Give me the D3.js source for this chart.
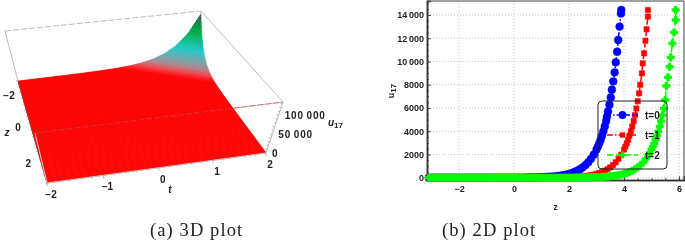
<!DOCTYPE html>
<html><head><meta charset="utf-8">
<script src="https://cdn.jsdelivr.net/npm/d3@7"></script>
<style>
html,body{margin:0;padding:0;background:#fff;overflow:hidden}
svg{display:block;filter:blur(0.35px)}
text{font-family:"Liberation Sans",Arial,sans-serif;font-weight:bold;fill:#222}
.cap{font-family:"Liberation Serif",serif;font-weight:normal;font-size:18.5px;letter-spacing:1.1px;fill:#222}
</style></head><body>
<svg id="c" width="685" height="241"></svg>
<script>
// ---------- 2D plot data ----------
const lowZ = [-3.1,-3,-2.9,-2.8,-2.7,-2.6,-2.5,-2.4,-2.3,-2.2,-2.1,-2,-1.9,-1.8,-1.7,-1.6,-1.5,-1.4,-1.3,-1.2,-1.1,-1,-0.9,-0.8,-0.7,-0.6,-0.5,-0.4,-0.3,-0.2,-0.1,0,0.1,0.2,0.3,0.4,0.5,0.6,0.7,0.8,0.9,1];
const blueZ = [...lowZ,1.1,1.2,1.3,1.4,1.5,1.6,1.7,1.8,1.9,2,2.1,2.2,2.3,2.4,2.5,2.6,2.7,2.8,2.9,3,3.05,3.1,3.15,3.2,3.25,3.3,3.35,3.38,3.42,3.47,3.52,3.56,3.61,3.66,3.7,3.75,3.79,3.84,3.89,3.9];
const blueU = [0,0,0,0,0,0,0,0,0,0,0,0,0,0,0,0,1,1,1,1,1,1,1,1,2,2,2,3,3,4,5,6,7,9,11,13,16,20,24,30,36,44,54,66,81,99,121,147,180,220,268,328,400,489,597,730,891,1088,1329,1623,1983,2421,2676,2957,3268,3612,3992,4411,4875,5250,5710,6280,6910,7570,8290,9065,9925,10840,11850,13000,14140,14430];
const redZ = [...lowZ,1.1,1.2,1.3,1.4,1.5,1.6,1.7,1.8,1.9,2,2.1,2.2,2.3,2.4,2.5,2.6,2.7,2.8,2.9,3,3.1,3.2,3.3,3.4,3.5,3.6,3.7,3.8,3.9,4,4.05,4.1,4.15,4.2,4.25,4.3,4.35,4.4,4.45,4.5,4.55,4.59,4.65,4.68,4.73,4.78,4.82,4.87,4.87];
const redU = [0,0,0,0,0,0,0,0,0,0,0,0,0,0,0,0,0,0,0,0,0,0,0,0,0,0,0,0,0,0,0,0,1,1,1,1,1,1,2,2,3,4,7,9,11,13,16,20,24,30,36,44,54,66,81,99,121,147,180,220,268,328,400,489,597,730,891,1088,1329,1623,1983,2421,2676,2957,3268,3612,3992,4411,4875,5388,5955,6581,7270,8000,8980,9840,10700,11790,12770,13860,14430];
const greenZ = [...lowZ,1.1,1.2,1.3,1.4,1.5,1.6,1.7,1.8,1.9,2,2.1,2.2,2.3,2.4,2.5,2.6,2.7,2.8,2.9,3,3.1,3.2,3.3,3.4,3.5,3.6,3.7,3.8,3.9,4,4.1,4.2,4.3,4.4,4.5,4.6,4.7,4.8,4.9,5,5.05,5.1,5.15,5.2,5.25,5.3,5.35,5.4,5.45,5.5,5.54,5.6,5.66,5.7,5.76,5.82,5.88,5.88];
const greenU = [0,0,0,0,0,0,0,0,0,0,0,0,0,0,0,0,0,0,0,0,0,0,0,0,0,0,0,0,0,0,0,0,0,0,0,0,0,0,0,0,0,1,1,1,1,1,1,2,2,3,4,5,7,9,11,13,16,20,24,30,36,44,54,66,81,99,121,147,180,220,268,328,400,489,597,730,891,1088,1329,1623,1983,2421,2676,2957,3268,3612,3992,4411,4875,5388,5955,6680,7890,8630,9550,10360,11560,12500,13570,14430];
const seriesLabels = ["t=0","t=1","t=2"];
const seriesColors = ["#0000ff","#ff0000","#00ff00"];
const xTicks = [-2,0,2,4,6];
const yTicks = [0,2000,4000,6000,8000,10000,12000,14000];
// ---------- 3D plot data ----------
const profileS = [-5,1,2,2.5,3,3.25,3.5,3.75,4,4.25,4.5,4.75,5];      // t - z
const profileU = [0,40,310,840,2290,3770,6220,10260,16900,27900,46000,75800,125000];
const tTicks = [-2,-1,0,1,2];
const zTicks = [-2,0,2];
const uTicks = [0,50000,100000];

const svg = d3.select("#c");
const fmt = v => { const s=String(Math.abs(v)); return (v<0?"\u2212":"")+(s.length>=5? s.slice(0,-3)+"\u2009"+s.slice(-3):s); };

// ---------- 3D ----------
function quadMap(q){ // unit square -> quad (projective)
  const [[x0,y0],[x1,y1],[x2,y2],[x3,y3]] = q;
  const dx1=x1-x2,dx2=x3-x2,sx=x0-x1+x2-x3,dy1=y1-y2,dy2=y3-y2,sy=y0-y1+y2-y3;
  const den=dx1*dy2-dx2*dy1, g=(sx*dy2-dx2*sy)/den, h=(dx1*sy-sx*dy1)/den;
  const a=x1-x0+g*x1,b=x3-x0+h*x3,d=y1-y0+g*y1,e=y3-y0+h*y3;
  return (u,v)=>{const w=g*u+h*v+1;return [(a*u+b*v+x0)/w,(d*u+e*v+y0)/w];};
}
const baseMap = quadMap([[18,81],[197,60],[266,153],[47,183]]);
const topMap  = quadMap([[5,31],[201,11],[283,102],[35,133]]);
const tN = d3.scaleLinear().domain([-2,2]).range([0,1]);
const zN = d3.scaleLinear().domain([-3,3]).range([0,1]);
const uN = d3.scaleLinear().domain([0,134000]).range([0,1]);
const proj = (t,z,u)=>{const b=baseMap(tN(t),zN(z)),p=topMap(tN(t),zN(z)),k=uN(u);return [b[0]+(p[0]-b[0])*k,b[1]+(p[1]-b[1])*k];};
const height = d3.scaleLinear().domain(profileS).range(profileU);
const color = d3.scaleLinear()
  .domain([0,3000,7000,12000,20000,42000,78000,105000,125000])
  .range(["#ff0000","#ff0000","#f2454d","#b58088","#7fa0a6","#1fc8c8","#00b04a","#0a8a3a","#6a2a8a"]);
const g3 = svg.append("g");
const cells=[]; const nt=100,nz=120;
const tv=d3.range(nt+1).map(i=>-2+4*i/nt), zv=d3.range(nz+1).map(i=>-3+6*i/nz);
for(let j=0;j<nz;j++)for(let i=0;i<nt;i++){
  const t0=tv[i],t1=tv[i+1],z0=zv[j],z1=zv[j+1];
  const m=height((t0+t1)/2-(z0+z1)/2);
  cells.push({c:color(m),p:[proj(t0,z0,height(t0-z0)),proj(t1,z0,height(t1-z0)),proj(t1,z1,height(t1-z1)),proj(t0,z1,height(t0-z1))]});
}
const boxLine=(a,b,dash,col="#bdbdbd",w=1)=>g3.append("line").attr("x1",a[0]).attr("y1",a[1]).attr("x2",b[0]).attr("y2",b[1]).attr("stroke",col).attr("stroke-width",w).attr("stroke-dasharray",dash||null);
// back parts of the box
boxLine(proj(-2,-3,134000),proj(2,-3,134000),"6 2");
boxLine(proj(-2,-3,134000),proj(-2,-3,0));
boxLine(proj(2,-3,134000),proj(2,3,134000));
boxLine(proj(2,-3,134000),proj(2,-3,0));
boxLine(proj(2,-3,0),proj(2,3,0),null,"#999");
g3.selectAll("path.cell").data(cells).join("path").attr("class","cell")
  .attr("d",d=>"M"+d.p.join("L")+"Z").attr("fill",d=>d.c).attr("stroke",d=>d.c).attr("stroke-width",.6);
// front parts of the box
boxLine(proj(-2,-3,0),proj(-2,3,0),null,"#a83030",1);
boxLine(proj(-2,3,134000),proj(2,3,134000),"6 2","#cf3a3a",.9);
g3.append("line").attr("x1",239).attr("y1",107.5).attr("x2",283).attr("y2",102).attr("stroke","#bdbdbd").attr("stroke-dasharray","6 2");
boxLine(proj(-2,3,0),proj(2,3,0),null,"#c9c9c9",1);
boxLine(proj(2,3,0),proj(2,3,134000),null,"#bdbdbd",1);
boxLine(proj(-2,3,0),proj(-2,3,134000),null,"#cfcfcf",1);
// ticks
const tick3=(p,dx,dy)=>g3.append("line").attr("x1",p[0]).attr("y1",p[1]).attr("x2",p[0]+dx).attr("y2",p[1]+dy).attr("stroke","#999").attr("stroke-width",.7);
d3.range(-2,2.01,.2).forEach(t=>tick3(proj(t,3,0),0,Math.abs(t-Math.round(t))<.01?3:1.5));
d3.range(-3,3.01,.4).forEach(z=>tick3(proj(-2,z,0),-2,0));
d3.range(0,134000,10000).forEach(u=>tick3(proj(2,3,u),-2,0));
const lab3=svg.append("g").style("font-size","10px");
tTicks.forEach(t=>{const p=proj(t,3,0);lab3.append("text").attr("x",p[0]+4).attr("y",p[1]+15).attr("text-anchor","middle").text(fmt(t));});
zTicks.forEach(z=>{const p=proj(-2,z,0);lab3.append("text").attr("x",p[0]-13).attr("y",p[1]+4).attr("text-anchor","middle").text(fmt(z));});
uTicks.forEach(u=>{const p=proj(2,3,u);lab3.append("text").attr("x",p[0]+6).attr("y",p[1]+4).style("letter-spacing",u?".8px":null).text(fmt(u));});
lab3.append("text").attr("x",170).attr("y",193).attr("text-anchor","middle").style("font-style","italic").text("t");
lab3.append("text").attr("x",7).attr("y",136).attr("text-anchor","middle").style("font-style","italic").text("z");
const ul=lab3.append("text").attr("x",328).attr("y",126).style("font-style","italic").text("u");
ul.append("tspan").attr("dy",2).style("font-size","8px").style("font-style","normal").text("17");
svg.append("text").attr("class","cap").attr("x",150).attr("y",236).text("(a) 3D plot");

// ---------- 2D ----------
const pLeft=427,pRight=684,pTop=1,pBottom=180;
const x=d3.scaleLinear().domain([-3.164,6.182]).range([pLeft,pRight]);
const y=d3.scaleLinear().domain([-198,15205]).range([pBottom,pTop]);
const gp=svg.append("g");
gp.selectAll("line.gx").data(xTicks).join("line").attr("class","gx").attr("x1",d=>x(d)).attr("x2",d=>x(d)).attr("y1",pTop).attr("y2",pBottom).attr("stroke","#b5b5b5").attr("stroke-width",.8).attr("stroke-dasharray","1 2");
gp.selectAll("line.gy").data(yTicks).join("line").attr("class","gy").attr("y1",d=>y(d)).attr("y2",d=>y(d)).attr("x1",pLeft).attr("x2",pRight).attr("stroke","#b5b5b5").attr("stroke-width",.8).attr("stroke-dasharray","1 2");
const axB=d3.axisBottom(x).tickValues(d3.range(-3,6.01,.5)).tickSize(-2).tickFormat("");
const axBM=d3.axisBottom(x).tickValues(xTicks).tickSize(-4).tickPadding(6).tickFormat(fmt);
const axL=d3.axisLeft(y).tickValues(d3.range(0,15001,500)).tickSize(-2).tickFormat("");
const axLM=d3.axisLeft(y).tickValues(yTicks).tickSize(-4).tickPadding(3).tickFormat(fmt);
[[axB,`translate(0,${pBottom})`],[axBM,`translate(0,${pBottom})`],[axL,`translate(${pLeft},0)`],[axLM,`translate(${pLeft},0)`]].forEach(([a,tr])=>{
  const g=gp.append("g").attr("transform",tr).call(a);
  g.selectAll("path").attr("stroke","#333").attr("stroke-width",1.5);
  g.selectAll("line").attr("stroke","#333").attr("stroke-width",.8);
  g.selectAll("text").style("font-size","9px").style("font-family",'"Liberation Sans",Arial,sans-serif').attr("fill","#222");
});
gp.append("line").attr("x1",pLeft).attr("x2",pRight).attr("y1",pTop).attr("y2",pTop).attr("stroke","#444").attr("stroke-width",1);
gp.append("line").attr("x1",pRight).attr("x2",pRight).attr("y1",pTop).attr("y2",pBottom).attr("stroke","#444").attr("stroke-width",1);

const dashes=["4 2 1.5 2","6 2 1.5 2","6 3"];
const sym=[d3.symbolCircle,d3.symbolSquare,d3.symbolCross], sizes=[48,28,28];
const line=d3.line().x(d=>x(d[0])).y(d=>y(d[1]));
[[blueZ,blueU],[redZ,redU],[greenZ,greenU]].forEach(([zs,us],i)=>{
  const pts=d3.zip(zs,us);
  gp.append("path").attr("d",line(pts)).attr("fill","none").attr("stroke",seriesColors[i]).attr("stroke-width",1.5).attr("stroke-dasharray",dashes[i]);
  gp.selectAll("path.m"+i).data(pts).join("path").attr("class","m"+i)
    .attr("transform",d=>`translate(${x(d[0])},${y(d[1])})`)
    .attr("d",d3.symbol().type(sym[i]).size(sizes[i])).attr("fill",seriesColors[i]).attr("stroke",seriesColors[i]).attr("stroke-width",i==2?1:.5).attr("stroke-linejoin","round");
});
svg.append("rect").attr("x",598).attr("y",101).attr("width",69).attr("height",68).attr("rx",4).attr("fill","none").attr("stroke","#222").attr("stroke-width",1);
seriesLabels.forEach((s,i)=>{
  const yy=115+20*i;
  svg.append("line").attr("x1",607).attr("x2",638).attr("y1",yy).attr("y2",yy).attr("stroke",seriesColors[i]).attr("stroke-width",1.5).attr("stroke-dasharray",dashes[i]);
  svg.append("path").attr("transform",`translate(622.5,${yy})`).attr("d",d3.symbol().type(sym[i]).size(sizes[i])).attr("fill",seriesColors[i]);
  svg.append("text").attr("x",645).attr("y",yy+4).style("font-size","10px").text(s);
});
svg.append("text").attr("x",555.5).attr("y",210).attr("text-anchor","middle").style("font-size","8.5px").text("z");
const yl=svg.append("text").attr("transform","translate(394,91) rotate(-90)").attr("text-anchor","middle").style("font-size","9px").text("u");
yl.append("tspan").attr("dy",1.5).style("font-size","8px").text("17");
svg.append("text").attr("class","cap").attr("x",442).attr("y",236).text("(b) 2D plot");
</script></body></html>
